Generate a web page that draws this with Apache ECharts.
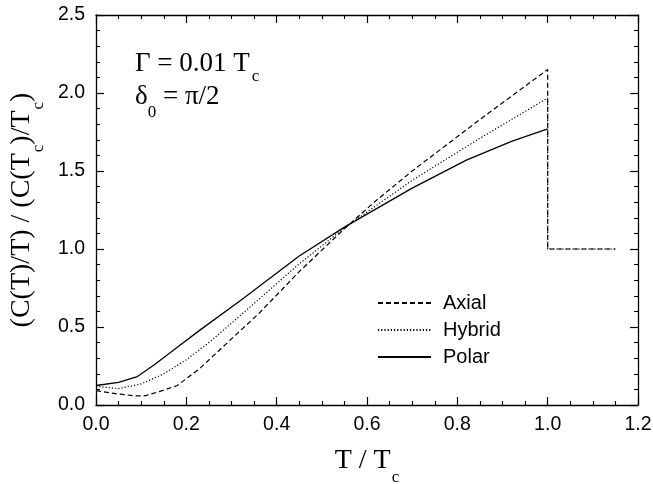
<!DOCTYPE html>
<html>
<head>
<meta charset="utf-8">
<script src="https://cdn.jsdelivr.net/npm/echarts@6/dist/echarts.min.js"></script>
<style>
  html, body { margin: 0; padding: 0; background: #fff; }
  #chart { width: 653px; height: 484px; }
</style>
</head>
<body>
<div id="chart"></div>
<script>
// Reduced specific heat (C(T)/T)/(C(Tc)/Tc) versus T/Tc for three gap structures
const axialT = [0, 0.05, 0.09, 0.11, 0.15, 0.18, 0.23, 0.28, 0.36, 0.45, 0.55, 0.62, 0.70, 0.85, 1.0, 1.0, 1.15];
const axialC = [0.092, 0.07, 0.058, 0.06, 0.095, 0.125, 0.235, 0.37, 0.585, 0.855, 1.13, 1.31, 1.50, 1.83, 2.15, 1.0, 1.0];

const hybridT = [0, 0.05, 0.1, 0.15, 0.2, 0.25, 0.33, 0.45, 0.55, 0.70, 0.85, 1.0, 1.0, 1.15];
const hybridC = [0.12, 0.105, 0.135, 0.2, 0.29, 0.40, 0.60, 0.905, 1.135, 1.44, 1.71, 1.968, 1.0, 1.0];

const polarT = [0, 0.05, 0.09, 0.13, 0.18, 0.23, 0.32, 0.45, 0.55, 0.70, 0.82, 0.92, 1.0];
const polarC = [0.125, 0.145, 0.18, 0.26, 0.37, 0.48, 0.67, 0.955, 1.14, 1.39, 1.57, 1.69, 1.77];

const seriesNames = ['Axial', 'Hybrid', 'Polar'];
const xTicks = { min: 0, max: 1.2, step: 0.2 };
const yTicks = { min: 0, max: 2.5, step: 0.5 };

const pairs = (xs, ys) => xs.map((x, i) => [x, ys[i]]);

const SERIF = '"Liberation Serif", "Times New Roman", serif';
const SANS = '"Liberation Sans", Arial, Helvetica, sans-serif';

const titleRich = {
  m: { fontFamily: SERIF, fontSize: 28, lineHeight: 30, color: '#000', verticalAlign: 'top' },
  s: { fontFamily: SERIF, fontSize: 17, lineHeight: 17, color: '#000', verticalAlign: 'top', padding: [22, 0, 0, 1] }
};

// shared frame styling: inward ticks on all four sides
const axisLine = { show: true, onZero: false, lineStyle: { color: '#000', width: 1.3 } };
const axisTick = { show: true, inside: true, length: 8, lineStyle: { color: '#000', width: 1.2 } };
const minorTick = n => ({ show: true, splitNumber: n, length: 4, lineStyle: { color: '#000', width: 1.1 } });
const tickLabel = {
  show: true, color: '#000', fontFamily: SANS, fontSize: 19.5,
  formatter: v => v.toFixed(1)
};

const chart = echarts.init(document.getElementById('chart'), null, { renderer: 'canvas' });

const lineSeries = (name, data, type) => ({
  name,
  type: 'line',
  data,
  symbol: 'none',
  showSymbol: false,
  smooth: false,
  animation: false,
  lineStyle: { color: '#000', width: type === 'solid' ? 1.3 : 1.2, type },
  itemStyle: { color: '#000' }
});

chart.setOption({
  animation: false,
  backgroundColor: '#fff',
  grid: { left: 96, top: 15, right: 15, bottom: 79, containLabel: false, outerBoundsMode: 'none' },
  xAxis: [
    {
      type: 'value', position: 'bottom',
      min: xTicks.min, max: xTicks.max, interval: xTicks.step,
      axisLine, axisTick, minorTick: minorTick(4), splitLine: { show: false },
      axisLabel: Object.assign({ margin: 10 }, tickLabel),
      name: '{m|T / T}{s|c}',
      nameLocation: 'middle',
      nameGap: 42,
      nameTextStyle: { rich: titleRich }
    },
    {
      type: 'value', position: 'top',
      min: xTicks.min, max: xTicks.max, interval: xTicks.step,
      axisLine, axisTick, minorTick: minorTick(4), splitLine: { show: false },
      axisLabel: { show: false }
    }
  ],
  yAxis: [
    {
      type: 'value', position: 'left',
      min: yTicks.min, max: yTicks.max, interval: yTicks.step,
      axisLine, axisTick, minorTick: minorTick(5), splitLine: { show: false },
      axisLabel: Object.assign({ margin: 11 }, tickLabel),
      name: '{m|(C(T)/T) / (C(T}{s|c}{m|)/T}{s|c}{m|)}',
      nameLocation: 'middle',
      nameRotate: 90,
      nameGap: 50,
      nameTextStyle: { rich: titleRich }
    },
    {
      type: 'value', position: 'right',
      min: yTicks.min, max: yTicks.max, interval: yTicks.step,
      axisLine, axisTick, minorTick: minorTick(5), splitLine: { show: false },
      axisLabel: { show: false }
    }
  ],
  legend: {
    orient: 'vertical',
    left: 377,
    top: 293,
    padding: 0,
    itemWidth: 53,
    itemHeight: 14,
    itemGap: 7,
    itemStyle: { opacity: 0, borderWidth: 0 },
    data: seriesNames,
    textStyle: { color: '#000', fontFamily: SANS, fontSize: 20, lineHeight: 20, padding: [0, 0, 0, 7] }
  },
  graphic: [
    {
      type: 'text', left: 135, top: 50,
      style: {
        text: '{m|Γ = 0.01 T}{s|c}',
        rich: {
          m: { fontFamily: SERIF, fontSize: 27, lineHeight: 30, color: '#000', verticalAlign: 'top' },
          s: { fontFamily: SERIF, fontSize: 17, lineHeight: 17, color: '#000', verticalAlign: 'top', padding: [18, 0, 0, 2] }
        }
      }
    },
    {
      type: 'text', left: 135, top: 83,
      style: {
        text: '{m|δ}{s|0}{m| = π/2}',
        rich: {
          m: { fontFamily: SERIF, fontSize: 27, lineHeight: 30, color: '#000', verticalAlign: 'top' },
          s: { fontFamily: SERIF, fontSize: 17, lineHeight: 17, color: '#000', verticalAlign: 'top', padding: [21, 0, 0, 0] }
        }
      }
    }
  ],
  series: [
    lineSeries(seriesNames[0], pairs(axialT, axialC), [5, 3]),
    lineSeries(seriesNames[1], pairs(hybridT, hybridC), [1.2, 2]),
    lineSeries(seriesNames[2], pairs(polarT, polarC), 'solid')
  ]
});
</script>
</body>
</html>
